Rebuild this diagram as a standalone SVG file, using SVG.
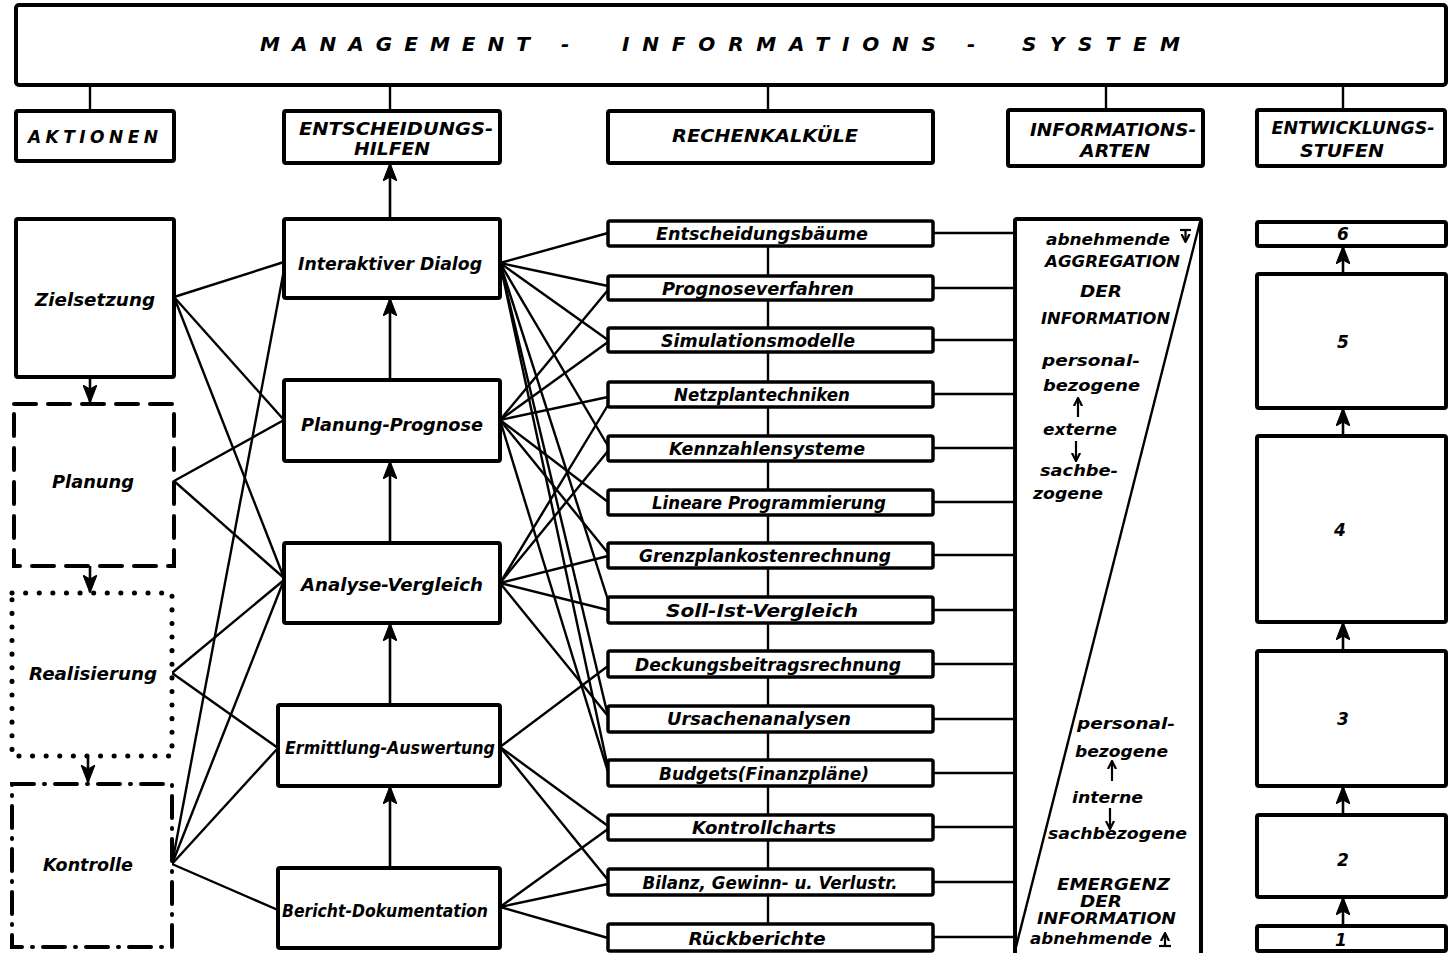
<svg xmlns="http://www.w3.org/2000/svg" width="1451" height="953" viewBox="0 0 1451 953">
<defs>
<marker id="ah" viewBox="0 0 18 14" refX="17" refY="7" markerWidth="18" markerHeight="14" markerUnits="userSpaceOnUse" orient="auto">
<path d="M0,0 L18,7 L0,14 L4,7 Z" fill="#000" stroke="#000" stroke-width="1"/>
</marker>
<marker id="sa" viewBox="0 0 10 10" refX="9" refY="5" markerWidth="9" markerHeight="10" markerUnits="userSpaceOnUse" orient="auto">
<path d="M0,0.5 L9,5 L0,9.5" fill="none" stroke="#000" stroke-width="2.4"/>
</marker>
<style>
text{font-family:"DejaVu Sans","Liberation Sans",Arial,sans-serif;font-weight:bold;font-style:italic;fill:#000}
.box{fill:#fff;stroke:#000;stroke-width:4}
.rk{fill:#fff;stroke:#000;stroke-width:3.5}
.ln{stroke:#000;stroke-width:2.4;fill:none}
.arr{stroke:#000;stroke-width:2.6;fill:none;marker-end:url(#ah)}
.sm{stroke:#000;stroke-width:2.2;fill:none;marker-end:url(#sa)}
.t20{font-size:20px}
.t17{font-size:17px}
.t16{font-size:16px}
.c{text-anchor:middle}
</style>
</defs>
<rect width="1451" height="953" fill="#fff"/>

<g id="connectors">
<line class="ln" x1="90" y1="85" x2="90" y2="111"/>
<line class="ln" x1="390" y1="85" x2="390" y2="111"/>
<line class="ln" x1="768" y1="85" x2="768" y2="111"/>
<line class="ln" x1="1106" y1="85" x2="1106" y2="110"/>
<line class="ln" x1="1343" y1="85" x2="1343" y2="110"/>
<line class="arr" x1="90" y1="377" x2="90" y2="402"/>
<line class="arr" x1="90" y1="566" x2="90" y2="592"/>
<line class="arr" x1="88" y1="756" x2="88" y2="782"/>
<line class="arr" x1="390" y1="219" x2="390" y2="164"/>
<line class="arr" x1="390" y1="380" x2="390" y2="299"/>
<line class="arr" x1="390" y1="543" x2="390" y2="462"/>
<line class="arr" x1="390" y1="705" x2="390" y2="624"/>
<line class="arr" x1="390" y1="868" x2="390" y2="787"/>
<line class="arr" x1="1343" y1="274" x2="1343" y2="247"/>
<line class="arr" x1="1343" y1="436" x2="1343" y2="409"/>
<line class="arr" x1="1343" y1="651" x2="1343" y2="623"/>
<line class="arr" x1="1343" y1="815" x2="1343" y2="787"/>
<line class="arr" x1="1343" y1="926" x2="1343" y2="898"/>
<line class="ln" x1="174" y1="297" x2="284" y2="262"/>
<line class="ln" x1="174" y1="297" x2="284" y2="420"/>
<line class="ln" x1="174" y1="297" x2="284" y2="578"/>
<line class="ln" x1="174" y1="481" x2="284" y2="420"/>
<line class="ln" x1="174" y1="481" x2="284" y2="578"/>
<line class="ln" x1="172" y1="673" x2="284" y2="580"/>
<line class="ln" x1="172" y1="673" x2="278" y2="748"/>
<line class="ln" x1="172" y1="864" x2="284" y2="270"/>
<line class="ln" x1="172" y1="864" x2="284" y2="580"/>
<line class="ln" x1="172" y1="864" x2="278" y2="748"/>
<line class="ln" x1="172" y1="864" x2="278" y2="910"/>
<line class="ln" x1="500" y1="263" x2="608" y2="233"/>
<line class="ln" x1="500" y1="263" x2="608" y2="286"/>
<line class="ln" x1="500" y1="263" x2="608" y2="340"/>
<line class="ln" x1="500" y1="263" x2="608" y2="446"/>
<line class="ln" x1="500" y1="263" x2="608" y2="600"/>
<line class="ln" x1="500" y1="263" x2="608" y2="716"/>
<line class="ln" x1="500" y1="263" x2="608" y2="768"/>
<line class="ln" x1="500" y1="420" x2="608" y2="290"/>
<line class="ln" x1="500" y1="420" x2="608" y2="342"/>
<line class="ln" x1="500" y1="420" x2="608" y2="397"/>
<line class="ln" x1="500" y1="420" x2="608" y2="502"/>
<line class="ln" x1="500" y1="420" x2="608" y2="553"/>
<line class="ln" x1="500" y1="420" x2="608" y2="772"/>
<line class="ln" x1="500" y1="583" x2="608" y2="405"/>
<line class="ln" x1="500" y1="583" x2="608" y2="451"/>
<line class="ln" x1="500" y1="583" x2="608" y2="556"/>
<line class="ln" x1="500" y1="583" x2="608" y2="610"/>
<line class="ln" x1="500" y1="583" x2="608" y2="716"/>
<line class="ln" x1="500" y1="747" x2="608" y2="666"/>
<line class="ln" x1="500" y1="747" x2="608" y2="826"/>
<line class="ln" x1="500" y1="747" x2="608" y2="880"/>
<line class="ln" x1="500" y1="907" x2="608" y2="829"/>
<line class="ln" x1="500" y1="907" x2="608" y2="884"/>
<line class="ln" x1="500" y1="907" x2="608" y2="938"/>
<line class="ln" x1="768" y1="246" x2="768" y2="924"/>
<line class="ln" x1="933" y1="233" x2="1015" y2="233"/>
<line class="ln" x1="933" y1="288" x2="1015" y2="288"/>
<line class="ln" x1="933" y1="340" x2="1015" y2="340"/>
<line class="ln" x1="933" y1="394" x2="1015" y2="394"/>
<line class="ln" x1="933" y1="448" x2="1015" y2="448"/>
<line class="ln" x1="933" y1="502" x2="1015" y2="502"/>
<line class="ln" x1="933" y1="555" x2="1015" y2="555"/>
<line class="ln" x1="933" y1="610" x2="1015" y2="610"/>
<line class="ln" x1="933" y1="664" x2="1015" y2="664"/>
<line class="ln" x1="933" y1="719" x2="1015" y2="719"/>
<line class="ln" x1="933" y1="773" x2="1015" y2="773"/>
<line class="ln" x1="933" y1="827" x2="1015" y2="827"/>
<line class="ln" x1="933" y1="882" x2="1015" y2="882"/>
<line class="ln" x1="933" y1="937" x2="1015" y2="937"/>
</g>

<g id="mis">
<rect class="box" x="16" y="5" width="1430" height="80" rx="3"/>
<text class="t20" x="260" y="51" textLength="270" lengthAdjust="spacing">MANAGEMENT</text>
<text class="t20" x="561" y="51">-</text>
<text class="t20" x="622" y="51" textLength="314" lengthAdjust="spacing">INFORMATIONS</text>
<text class="t20" x="967" y="51">-</text>
<text class="t20" x="1022" y="51" textLength="158" lengthAdjust="spacing">SYSTEM</text>
</g>

<g id="h-aktionen"><rect class="box" x="16" y="111" width="158" height="50" rx="2"/>
<text class="t17" x="28" y="143" textLength="130" lengthAdjust="spacing">AKTIONEN</text></g>
<g id="h-entscheidungshilfen"><rect class="box" x="284" y="111" width="216" height="52" rx="2"/>
<text class="t17 c" x="396" y="135" textLength="194" lengthAdjust="spacingAndGlyphs">ENTSCHEIDUNGS-</text>
<text class="t17 c" x="392" y="155" textLength="76" lengthAdjust="spacingAndGlyphs">HILFEN</text></g>
<g id="h-rechenkalkuele"><rect class="box" x="608" y="111" width="325" height="52" rx="2"/>
<text class="t17 c" x="765" y="142" textLength="186" lengthAdjust="spacingAndGlyphs">RECHENKALKÜLE</text></g>
<g id="h-informationsarten"><rect class="box" x="1008" y="110" width="195" height="56" rx="2"/>
<text class="t17 c" x="1113" y="136" textLength="166" lengthAdjust="spacingAndGlyphs">INFORMATIONS-</text>
<text class="t17 c" x="1115" y="157" textLength="70" lengthAdjust="spacingAndGlyphs">ARTEN</text></g>
<g id="h-entwicklungsstufen"><rect class="box" x="1257" y="110" width="188" height="56" rx="2"/>
<text class="t17 c" x="1353" y="134" textLength="163" lengthAdjust="spacingAndGlyphs">ENTWICKLUNGS-</text>
<text class="t17 c" x="1342" y="157" textLength="84" lengthAdjust="spacingAndGlyphs">STUFEN</text></g>

<g id="zielsetzung"><rect class="box" x="16" y="219" width="158" height="158" rx="2"/>
<text class="t17 c" x="95" y="306" textLength="120" lengthAdjust="spacingAndGlyphs">Zielsetzung</text></g>
<g id="planung"><rect x="14" y="404" width="160" height="162" fill="#fff" stroke="#000" stroke-width="4" stroke-dasharray="22 12" stroke-linecap="round"/>
<text class="t17 c" x="93" y="488" textLength="82" lengthAdjust="spacingAndGlyphs">Planung</text></g>
<g id="realisierung"><rect x="12" y="593" width="160" height="163" fill="#fff" stroke="#000" stroke-width="5" stroke-dasharray="0.1 13.5" stroke-linecap="round"/>
<text class="t17 c" x="93" y="680" textLength="128" lengthAdjust="spacingAndGlyphs">Realisierung</text></g>
<g id="kontrolle"><rect x="12" y="784" width="160" height="163" fill="#fff" stroke="#000" stroke-width="4" stroke-dasharray="22 10 1 10" stroke-linecap="round"/>
<text class="t17 c" x="88" y="871" textLength="90" lengthAdjust="spacingAndGlyphs">Kontrolle</text></g>

<g id="interaktiver-dialog"><rect class="box" x="284" y="219" width="216" height="79" rx="2"/>
<text class="t17 c" x="390" y="270" textLength="184" lengthAdjust="spacingAndGlyphs">Interaktiver Dialog</text></g>
<g id="planung-prognose"><rect class="box" x="284" y="380" width="216" height="81" rx="2"/>
<text class="t17 c" x="392" y="431" textLength="182" lengthAdjust="spacingAndGlyphs">Planung-Prognose</text></g>
<g id="analyse-vergleich"><rect class="box" x="284" y="543" width="216" height="80" rx="2"/>
<text class="t17 c" x="392" y="591" textLength="182" lengthAdjust="spacingAndGlyphs">Analyse-Vergleich</text></g>
<g id="ermittlung-auswertung"><rect class="box" x="278" y="705" width="222" height="81" rx="2"/>
<text class="t17 c" x="390" y="754" textLength="210" lengthAdjust="spacingAndGlyphs">Ermittlung-Auswertung</text></g>
<g id="bericht-dokumentation"><rect class="box" x="278" y="868" width="222" height="80" rx="2"/>
<text class="t17 c" x="385" y="917" textLength="206" lengthAdjust="spacingAndGlyphs">Bericht-Dokumentation</text></g>

<g id="rk-entscheidungsbaeume"><rect class="rk" x="608" y="221" width="325" height="25" rx="2"/>
<text class="t17 c" x="762" y="240" textLength="212" lengthAdjust="spacingAndGlyphs">Entscheidungsbäume</text></g>
<g id="rk-prognoseverfahren"><rect class="rk" x="608" y="276" width="325" height="24" rx="2"/>
<text class="t17 c" x="758" y="295" textLength="192" lengthAdjust="spacingAndGlyphs">Prognoseverfahren</text></g>
<g id="rk-simulationsmodelle"><rect class="rk" x="608" y="328" width="325" height="24" rx="2"/>
<text class="t17 c" x="758" y="347" textLength="194" lengthAdjust="spacingAndGlyphs">Simulationsmodelle</text></g>
<g id="rk-netzplantechniken"><rect class="rk" x="608" y="382" width="325" height="25" rx="2"/>
<text class="t17 c" x="762" y="401" textLength="176" lengthAdjust="spacingAndGlyphs">Netzplantechniken</text></g>
<g id="rk-kennzahlensysteme"><rect class="rk" x="608" y="436" width="325" height="25" rx="2"/>
<text class="t17 c" x="767" y="455" textLength="196" lengthAdjust="spacingAndGlyphs">Kennzahlensysteme</text></g>
<g id="rk-lineare-programmierung"><rect class="rk" x="608" y="490" width="325" height="25" rx="2"/>
<text class="t17 c" x="769" y="509" textLength="234" lengthAdjust="spacingAndGlyphs">Lineare Programmierung</text></g>
<g id="rk-grenzplankostenrechnung"><rect class="rk" x="608" y="543" width="325" height="25" rx="2"/>
<text class="t17 c" x="765" y="562" textLength="252" lengthAdjust="spacingAndGlyphs">Grenzplankostenrechnung</text></g>
<g id="rk-soll-ist-vergleich"><rect class="rk" x="608" y="597" width="325" height="26" rx="2"/>
<text class="t17 c" x="762" y="617" textLength="192" lengthAdjust="spacingAndGlyphs">Soll-Ist-Vergleich</text></g>
<g id="rk-deckungsbeitragsrechnung"><rect class="rk" x="608" y="651" width="325" height="26" rx="2"/>
<text class="t17 c" x="768" y="671" textLength="266" lengthAdjust="spacingAndGlyphs">Deckungsbeitragsrechnung</text></g>
<g id="rk-ursachenanalysen"><rect class="rk" x="608" y="706" width="325" height="26" rx="2"/>
<text class="t17 c" x="759" y="725" textLength="184" lengthAdjust="spacingAndGlyphs">Ursachenanalysen</text></g>
<g id="rk-budgets"><rect class="rk" x="608" y="760" width="325" height="26" rx="2"/>
<text class="t17 c" x="764" y="780" textLength="210" lengthAdjust="spacingAndGlyphs">Budgets(Finanzpläne)</text></g>
<g id="rk-kontrollcharts"><rect class="rk" x="608" y="815" width="325" height="25" rx="2"/>
<text class="t17 c" x="764" y="834" textLength="144" lengthAdjust="spacingAndGlyphs">Kontrollcharts</text></g>
<g id="rk-bilanz"><rect class="rk" x="608" y="869" width="325" height="26" rx="2"/>
<text class="t17 c" x="770" y="889" textLength="255" lengthAdjust="spacingAndGlyphs">Bilanz, Gewinn- u. Verlustr.</text></g>
<g id="rk-rueckberichte"><rect class="rk" x="608" y="924" width="325" height="27" rx="2"/>
<text class="t17 c" x="757" y="945" textLength="137" lengthAdjust="spacingAndGlyphs">Rückberichte</text></g>

<g id="informationsarten">
<rect class="box" x="1015" y="219" width="186" height="745" rx="2"/>
<line class="ln" x1="1200" y1="222" x2="1016" y2="947"/>
<text class="t16" x="1046" y="245" textLength="124" lengthAdjust="spacingAndGlyphs">abnehmende</text>
<line x1="1180" y1="230" x2="1191" y2="230" stroke="#000" stroke-width="2.2"/>
<line class="sm" x1="1185.5" y1="230" x2="1185.5" y2="242"/>
<text class="t16" x="1045" y="267" textLength="135" lengthAdjust="spacingAndGlyphs">AGGREGATION</text>
<text class="t16" x="1080" y="297" textLength="42" lengthAdjust="spacingAndGlyphs">DER</text>
<text class="t16" x="1041" y="324" textLength="129" lengthAdjust="spacingAndGlyphs">INFORMATION</text>
<text class="t16" x="1042" y="366" textLength="98" lengthAdjust="spacingAndGlyphs">personal-</text>
<text class="t16" x="1043" y="391" textLength="97" lengthAdjust="spacingAndGlyphs">bezogene</text>
<line class="sm" x1="1078" y1="417" x2="1078" y2="398"/>
<text class="t16" x="1043" y="435" textLength="74" lengthAdjust="spacingAndGlyphs">externe</text>
<line class="sm" x1="1076" y1="441" x2="1076" y2="461"/>
<text class="t16" x="1040" y="476" textLength="78" lengthAdjust="spacingAndGlyphs">sachbe-</text>
<text class="t16" x="1033" y="499" textLength="70" lengthAdjust="spacingAndGlyphs">zogene</text>
<text class="t16" x="1077" y="729" textLength="98" lengthAdjust="spacingAndGlyphs">personal-</text>
<text class="t16" x="1075" y="757" textLength="93" lengthAdjust="spacingAndGlyphs">bezogene</text>
<line class="sm" x1="1112" y1="781" x2="1112" y2="761"/>
<text class="t16" x="1072" y="803" textLength="71" lengthAdjust="spacingAndGlyphs">interne</text>
<line class="sm" x1="1110" y1="808" x2="1110" y2="829"/>
<text class="t16" x="1048" y="839" textLength="139" lengthAdjust="spacingAndGlyphs">sachbezogene</text>
<text class="t16" x="1057" y="890" textLength="113" lengthAdjust="spacingAndGlyphs">EMERGENZ</text>
<text class="t16" x="1080" y="907" textLength="42" lengthAdjust="spacingAndGlyphs">DER</text>
<text class="t16" x="1037" y="924" textLength="139" lengthAdjust="spacingAndGlyphs">INFORMATION</text>
<text class="t16" x="1030" y="944" textLength="122" lengthAdjust="spacingAndGlyphs">abnehmende</text>
<line x1="1159" y1="946" x2="1171" y2="946" stroke="#000" stroke-width="2.2"/>
<line class="sm" x1="1165" y1="946" x2="1165" y2="933"/>
</g>

<g id="stufe-6"><rect class="box" x="1257" y="222" width="189" height="24" rx="2"/><text class="t17 c" x="1343" y="240">6</text></g>
<g id="stufe-5"><rect class="box" x="1257" y="274" width="189" height="134" rx="2"/><text class="t17 c" x="1343" y="348">5</text></g>
<g id="stufe-4"><rect class="box" x="1257" y="436" width="189" height="186" rx="2"/><text class="t17 c" x="1340" y="536">4</text></g>
<g id="stufe-3"><rect class="box" x="1257" y="651" width="189" height="135" rx="2"/><text class="t17 c" x="1343" y="725">3</text></g>
<g id="stufe-2"><rect class="box" x="1257" y="815" width="189" height="82" rx="2"/><text class="t17 c" x="1343" y="866">2</text></g>
<g id="stufe-1"><rect class="box" x="1257" y="926" width="189" height="25" rx="2"/><text class="t17 c" x="1341" y="946">1</text></g>
</svg>
